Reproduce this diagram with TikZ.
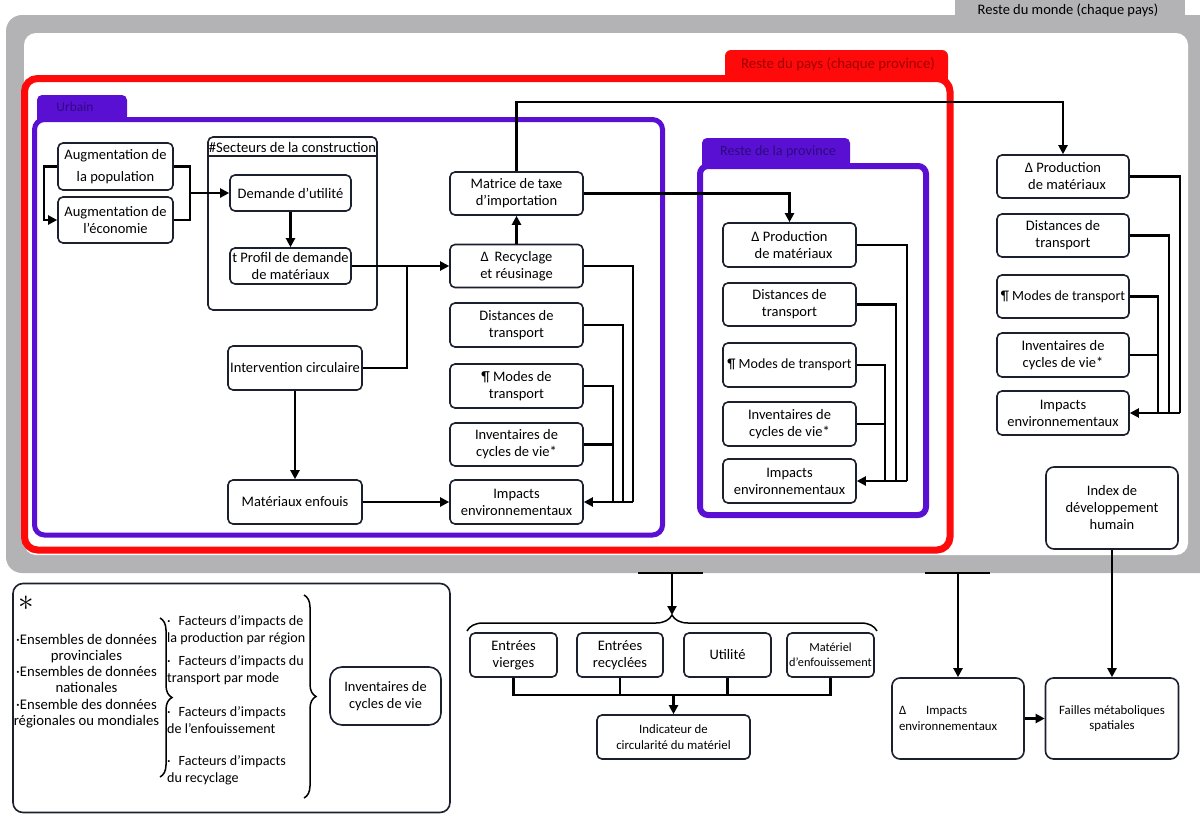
\documentclass[tikz,border=0pt]{standalone}
\usepackage{fontspec}
\setmainfont{Carlito}
\usetikzlibrary{arrows.meta,decorations.pathreplacing}
\definecolor{grayc}{HTML}{B3B3B5}
\definecolor{redc}{HTML}{FF0A0A}
\definecolor{purc}{HTML}{5A10D2}
\definecolor{purtxt}{HTML}{2E0A80}
\definecolor{redtxt}{HTML}{A00000}
\definecolor{boxc}{HTML}{1B1F2E}
\newcommand{\fs}{\fontsize{14.5}{17}\selectfont}
\newcommand{\fsn}{\fontsize{14}{17}\selectfont}
\newcommand{\fsm}{\fontsize{12.8}{15.5}\selectfont}
\newcommand{\fsl}{\fontsize{14.1}{16.5}\selectfont}
\tikzset{
 box/.style={draw=boxc, line width=1.6pt, rounded corners=5pt, fill=white, align=center, inner sep=1pt, font=\fs},
 txt/.style={inner sep=0pt, font=\fsl},
 ln/.style={line width=2.1pt, draw=black},
 arr/.style={ln, -{Triangle[length=9pt,width=9pt]}},
 brc/.style={decorate, decoration={brace, amplitude=#1}, line width=1.5pt},
}
\begin{document}
\begin{tikzpicture}[x=1pt,y=-1pt]
\useasboundingbox (0,0) rectangle (1200,814);
% ---------- frames ----------
\fill[grayc, rounded corners=16] (6,15) rectangle (1216,573);
\fill[white, rounded corners=12] (24,33) rectangle (1188,555);
\fill[grayc] (955,0) rectangle (1185,16);
\node[txt, font=\fontsize{14.5}{16}\selectfont] (wtab) at (1068,10) {Reste du monde (chaque pays)};
% red frame
\fill[redc, rounded corners=6] (725,50) rectangle (948,80);
\fill[redc] (725,66) rectangle (948,80);
\draw[redc, line width=7, rounded corners=13] (24.5,78.5) rectangle (950,550);
\node[txt, text=redtxt, font=\fontsize{14.8}{16}\selectfont] (rtab) at (838,64) {Reste du pays (chaque province)};
% urbain frame
\fill[purc, rounded corners=5] (37,95) rectangle (127,121);
\fill[purc] (37,110) rectangle (127,121);
\draw[purc, line width=5, rounded corners=10] (34.5,119.5) rectangle (662.5,535);
\node[txt, text=purtxt, font=\fontsize{13.5}{16}\selectfont] (utab) at (75,107) {Urbain};
% province frame
\fill[purc, rounded corners=5] (702,138) rectangle (850,167);
\fill[purc] (702,152) rectangle (850,167);
\draw[purc, line width=6, rounded corners=8] (700,166) rectangle (926,515);
\node[txt, text=purtxt, font=\fontsize{14.2}{16}\selectfont] (ptab) at (778,152) {Reste de la province};
% ---------- Urbain nodes ----------
\node[box, minimum width=115, minimum height=47] (pop) at (115.5,166.5) {Augmentation de\\[5pt]la population};
\node[box, minimum width=115, minimum height=46] (eco) at (115.5,220) {Augmentation de\\l’économie};
\node[draw=boxc, line width=1.6pt, rounded corners=5pt, minimum width=169, minimum height=173] (sect) at (292.5,223.5) {};
\draw[draw=boxc, line width=1.6pt] (sect.west |- 0,156) -- (sect.east |- 0,156);
\node[txt, font=\fontsize{14.6}{16}\selectfont] (secttitle) at (292.5,147) {\#Secteurs de la construction};
\node[box, minimum width=121, minimum height=36] (dem) at (290.5,193) {Demande d’utilité};
\node[box, minimum width=121, minimum height=36] (prof) at (290.5,266) {t Profil de demande\\de matériaux};
\node[box, minimum width=134, minimum height=44] (int) at (295,368) {Intervention circulaire};
\node[box, minimum width=134, minimum height=44] (enf) at (295,502) {Matériaux enfouis};
\node[box, minimum width=133, minimum height=43] (mat) at (516.5,193.5) {Matrice de taxe\\d’importation};
\node[box, minimum width=133, minimum height=43] (rec) at (516.5,266) {Δ\hspace{6pt}Recyclage\\et réusinage};
\node[box, minimum width=133, minimum height=44] (dist) at (516.5,325) {Distances de\\transport};
\node[box, minimum width=133, minimum height=44] (mod) at (516.5,386) {¶ Modes de\\transport};
\node[box, minimum width=133, minimum height=43] (inv) at (516.5,444.5) {Inventaires de\\cycles de vie*};
\node[box, minimum width=133, minimum height=44] (imp) at (516.5,502) {Impacts\\environnementaux};
% ---------- Province nodes ----------
\node[box, minimum width=133, minimum height=44] (pprod) at (789.5,245) {Δ Production\\\hspace{8pt}de matériaux};
\node[box, minimum width=133, minimum height=43] (pdist) at (789.5,304.5) {Distances de\\transport};
\node[box, minimum width=133, minimum height=44, font=\fsn] (pmod) at (789.5,365) {¶ Modes de transport};
\node[box, minimum width=133, minimum height=44] (pinv) at (789.5,424) {Inventaires de\\cycles de vie*};
\node[box, minimum width=133, minimum height=44] (pimp) at (789.5,481) {Impacts\\environnementaux};
% ---------- World nodes ----------
\node[box, minimum width=132, minimum height=43] (wprod) at (1063,176.5) {Δ Production\\\hspace{8pt}de matériaux};
\node[box, minimum width=132, minimum height=43] (wdist) at (1063,235.5) {Distances de\\transport};
\node[box, minimum width=132, minimum height=43, font=\fsn] (wmod) at (1063,296.5) {¶ Modes de transport};
\node[box, minimum width=132, minimum height=44] (winv) at (1063,355) {Inventaires de\\cycles de vie*};
\node[box, minimum width=132, minimum height=44] (wimp) at (1063,413) {Impacts\\environnementaux};
\node[box, minimum width=132, minimum height=82, rounded corners=8pt] (idh) at (1112,508) {Index de\\développement\\humain};
% ---------- bottom nodes ----------
\node[box, minimum width=87, minimum height=44] (ev) at (513.5,655) {Entrées\\vierges};
\node[box, minimum width=86, minimum height=44] (er) at (620,655) {Entrées\\recyclées};
\node[box, minimum width=87, minimum height=44] (ut) at (727.5,655) {Utilité};
\node[box, minimum width=87, minimum height=44, font=\fontsize{12.3}{15}\selectfont] (me) at (830.5,655) {Matériel\\d’enfouissement};
\node[box, minimum width=153, minimum height=44, font=\fsm] (ind) at (673.5,737) {Indicateur de\\circularité du matériel};
\node[box, minimum width=132, minimum height=81, rounded corners=8pt, font=\fsm, text width=118, align=left] (dimp) at (958,718.5) {Δ\hspace{20pt}Impacts\\environnementaux};
\node[box, minimum width=133, minimum height=81, rounded corners=8pt, font=\fsm] (fail) at (1112,718.5) {Failles métaboliques\\spatiales};
% ---------- legend ----------
\node[draw=boxc, line width=1.6pt, rounded corners=10pt, minimum width=437, minimum height=229] (leg) at (231.5,698) {};
\node[txt, font=\fontsize{20}{20}\selectfont, scale=1.5, transform shape] (star) at (26,603) {$\ast$};
\node[txt, align=center, font=\fontsize{14.7}{16.3}\selectfont] (lsrc) at (86.5,681) {·Ensembles de données\\provinciales\\·Ensembles de données\\nationales\\·Ensemble des données\\régionales ou mondiales};
\node[txt, anchor=west, align=left] (f1) at (167,630) {·\hspace{8pt}Facteurs d’impacts de\\la production par région};
\node[txt, anchor=west, align=left] (f2) at (167,670) {·\hspace{8pt}Facteurs d’impacts du\\transport par mode};
\node[txt, anchor=west, align=left] (f3) at (167,720) {·\hspace{8pt}Facteurs d’impacts\\de l’enfouissement};
\node[txt, anchor=west, align=left] (f4) at (167,770) {·\hspace{8pt}Facteurs d’impacts\\du recyclage};
\node[box, minimum width=111, minimum height=58, rounded corners=12pt, font=\fontsize{14.4}{16.5}\selectfont] (lcv) at (385.5,696) {Inventaires de\\cycles de vie};
\draw[brc=12pt] (160,618) -- (160,777);
\draw[brc=12pt] (304,595) -- (304,798);
% ---------- connectors: Urbain ----------
\coordinate (j1) at (189,193);
\coordinate (j2) at (407,266);
\draw[arr] (pop.west) -- ++(-13,0) |- (eco.west);
\draw[ln] (pop.east) -- ++(16,0) |- (eco.east);
\draw[arr] (j1) -- (dem.west);
\draw[arr] (dem) -- (prof);
\draw[arr] (prof.east) -- (rec.west);
\draw[ln] (int.east) -| (j2);
\draw[arr] (int) -- (enf);
\draw[arr] (enf) -- (imp);
\draw[arr] (rec) -- (mat);
\draw[arr] (mat.north) -- ++(0,-69) -| (wprod.north);
\draw[arr] (mat.east) -| (pprod.north);
\coordinate (u1) at (633,502);
\coordinate (u2) at (623,502);
\coordinate (u3) at (613,502);
\draw[ln] (rec.east) -| (u1);
\draw[ln] (dist.east) -| (u2);
\draw[ln] (mod.east) -| (u3);
\draw[ln] (inv.east) -- (inv.east -| u3);
\draw[arr] (u1) -- (imp.east);
% ---------- connectors: Province ----------
\coordinate (p1) at (907,481);
\coordinate (p2) at (896,481);
\coordinate (p3) at (885,481);
\draw[ln] (pprod.east) -| (p1);
\draw[ln] (pdist.east) -| (p2);
\draw[ln] (pmod.east) -| (p3);
\draw[ln] (pinv.east) -- (pinv.east -| p3);
\draw[arr] (p1) -- (pimp.east);
% ---------- connectors: World ----------
\coordinate (w1) at (1180,413);
\coordinate (w2) at (1169,413);
\coordinate (w3) at (1158,413);
\draw[ln] (wprod.east) -| (w1);
\draw[ln] (wdist.east) -| (w2);
\draw[ln] (wmod.east) -| (w3);
\draw[ln] (winv.east) -- (winv.east -| w3);
\draw[arr] (w1) -- (wimp.east);
% ---------- bottom connectors ----------
\coordinate (t1a) at (638,573);
\coordinate (t1b) at (703,573);
\coordinate (t1) at (672,573);
\coordinate (bt) at (672,615);
\draw[ln] (t1a) -- (t1b);
\draw[arr] (t1) -- (bt);
\draw[brc=16pt] (467,631) -- (877,631);
\coordinate (hb) at (673.5,695);
\draw[ln] (ev.south) -- (ev.south |- hb) -| (me.south);
\draw[ln] (er.south) -- (er.south |- hb);
\draw[ln] (ut.south) -- (ut.south |- hb);
\draw[arr] (hb) -- (ind.north);
\coordinate (t2a) at (925,573);
\coordinate (t2b) at (990,573);
\coordinate (t2) at (958,573);
\draw[ln] (t2a) -- (t2b);
\draw[arr] (t2) -- (dimp.north);
\draw[arr] (idh) -- (fail);
\draw[arr] (dimp) -- (fail);
\end{tikzpicture}
\end{document}
